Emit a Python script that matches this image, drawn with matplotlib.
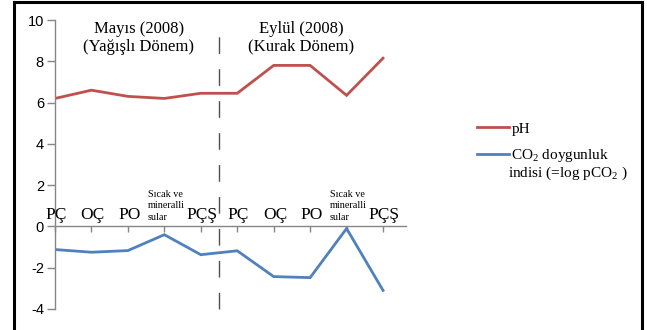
import matplotlib
matplotlib.use("Agg")
import matplotlib.pyplot as plt
from matplotlib.lines import Line2D

plt.rcParams["mathtext.fontset"] = "custom"
plt.rcParams["mathtext.rm"] = "Liberation Serif"
plt.rcParams["mathtext.it"] = "Liberation Serif:italic"

# Sampling sites, two campaigns
sites = ["PÇ", "OÇ", "PO", "Sıcak ve\nmineralli\nsular", "PÇŞ",
         "PÇ", "OÇ", "PO", "Sıcak ve\nmineralli\nsular", "PÇŞ"]
ph = [6.2, 6.6, 6.3, 6.2, 6.45, 6.45, 7.8, 7.8, 6.35, 8.15]
co2_index = [-1.12, -1.25, -1.17, -0.4, -1.37, -1.18, -2.43, -2.48, -0.1, -3.1]
y_ticks = [-4, -2, 0, 2, 4, 6, 8, 10]
period_labels = ["Mayıs (2008)\n(Yağışlı Dönem)", "Eylül (2008)\n(Kurak Dönem)"]
legend_labels = ["pH", "CO$_2$ doygunluk", "indisi (=log pCO$_2$ )"]

RED = "#C0504D"
BLUE = "#4F81BD"
AXIS_GREY = "#868686"
SERIF = "Liberation Serif"

W, H = 647, 330
fig = plt.figure(figsize=(W / 100, H / 100), dpi=100)
ax = fig.add_axes([55 / W, 21 / H, 351 / W, 289 / H])

x = list(range(len(sites)))
l_ph, = ax.plot(x, ph, color=RED, lw=2.0, solid_joinstyle="miter")
l_co2, = ax.plot(x, co2_index, color=BLUE, lw=2.0, solid_joinstyle="miter")

ax.set_xlim(0, 9.63)
ax.set_ylim(-4, 10)

# Axes: y on the left, x through zero
for s in ["top", "right"]:
    ax.spines[s].set_visible(False)
ax.spines["left"].set_color(AXIS_GREY)
ax.spines["bottom"].set_color(AXIS_GREY)
ax.spines["bottom"].set_position(("data", 0))
ax.spines["left"].set_linewidth(1.0)
ax.spines["bottom"].set_linewidth(1.0)

ax.set_yticks(y_ticks)
ax.set_yticklabels([str(v) for v in y_ticks], fontfamily="Liberation Sans", fontsize=10.5)
ax.tick_params(axis="y", direction="out", length=6, width=1, color=AXIS_GREY, pad=2)
ax.set_xticks(x)
ax.set_xticklabels([])
ax.tick_params(axis="x", direction="out", length=4, width=1, color=AXIS_GREY)

# Site labels above the zero line
for i, name in enumerate(sites):
    if "\n" in name:
        ax.annotate(name, xy=(i, 0), xytext=(-12, 3.5), textcoords="offset points",
                    ha="left", va="bottom", fontsize=7.3, family=SERIF,
                    linespacing=1.35)
    else:
        ax.annotate(name, xy=(i, 0), xytext=(1, 5), textcoords="offset points",
                    ha="center", va="baseline", fontsize=12.5, family=SERIF)

# Separator between the two campaigns
ax.axvline(4.5, ymin=0.0, ymax=0.985, color="#505050", lw=1.0,
           dashes=(12, 11), clip_on=False)

# Campaign headers
ax.text(2.3, 9.95, period_labels[0], ha="center", va="top", fontsize=12,
        family=SERIF, linespacing=1.15)
ax.text(6.75, 9.95, period_labels[1], ha="center", va="top", fontsize=12,
        family=SERIF, linespacing=1.15)

# Legend
fig.legend([l_ph, l_co2], legend_labels[:2], loc="upper left",
           bbox_to_anchor=(471 / W, 1 - 116 / H), frameon=False,
           handlelength=2.1, handletextpad=0.15, labelspacing=0.75,
           prop={"family": SERIF, "size": 11}, borderaxespad=0)
fig.text(508 / W, 1 - 177 / H, legend_labels[2], ha="left", va="baseline",
         fontsize=11, family=SERIF)

# Outer frame (open at the bottom)
frame_kw = dict(color="black", lw=2.2, transform=fig.transFigure)
fig.add_artist(Line2D([13.5 / W, 13.5 / W], [0, 1 - 1.5 / H], **frame_kw))
fig.add_artist(Line2D([13.5 / W, 642 / W], [1 - 1.5 / H, 1 - 1.5 / H], **frame_kw))
fig.add_artist(Line2D([642 / W, 642 / W], [0, 1 - 1.5 / H], **frame_kw))

fig.savefig("out.png", dpi=100)
